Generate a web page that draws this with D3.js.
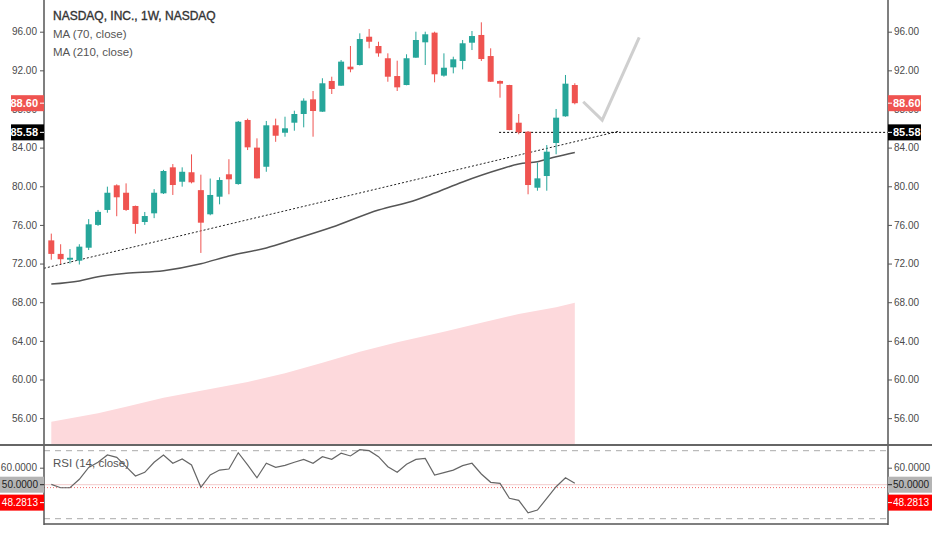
<!DOCTYPE html>
<html>
<head>
<meta charset="utf-8">
<script src="https://cdn.jsdelivr.net/npm/d3@7"></script>
<style>
body { margin: 0; background: #fff; }
svg { display: block; font-family: "Liberation Sans", Arial, sans-serif; }
</style>
</head>
<body>
<svg width="932" height="550"></svg>
<script>
// weekly candles, NASDAQ Inc (NDAQ), starting week of Oct 16 2017
let open  = [74.4,73.0,72.4,72.3,73.64,76.0,77.55,80.1,79.33,77.96,76.3,77.2,79.27,81.96,80.47,81.45,79.6,77.1,78.92,81.24,
             80.23,86.86,84.0,82.02,86.31,85.54,86.58,87.48,89.0,87.72,90.9,90.41,92.38,92.55,95.48,94.52,93.25,91.41,90.48,93.31,
             94.9,95.9,91.45,92.31,92.97,94.86,95.66,93.48,90.9,90.48,86.58,85.65,79.85,81.06,84.48,87.24,90.48];
let high  = [75.1,74.0,73.5,74.0,76.6,77.55,79.96,80.2,80.3,78.0,77.34,79.7,81.7,82.3,81.96,83.3,81.2,80.8,80.93,82.8,
             86.76,87.0,84.96,86.76,87.0,87.2,87.82,89.1,89.86,91.18,91.34,93.07,94.52,95.83,96.28,94.96,93.76,93.0,93.66,96.0,
             96.0,96.0,93.76,93.41,95.14,96.07,96.97,94.28,90.95,90.5,87.48,85.7,82.44,84.27,88.0,91.52,90.66];
let low   = [72.4,71.95,72.0,71.9,73.4,75.9,77.26,76.9,77.45,75.1,76.0,76.7,79.2,79.1,79.96,80.3,73.1,77.0,78.13,79.17,
             80.16,83.75,80.8,81.5,84.6,85.13,85.75,86.1,85.13,87.7,89.55,90.4,91.8,92.5,94.28,93.41,90.82,89.86,90.45,93.3,
             92.55,90.76,91.34,91.69,92.1,94.1,92.97,90.8,89.17,85.8,85.38,79.17,79.54,79.54,83.31,87.2,88.48];
let close = [73.0,72.45,72.6,73.75,76.06,77.35,79.33,78.86,77.55,76.1,76.92,79.33,81.58,80.13,81.5,80.41,76.23,79.1,80.65,80.72,
             86.68,84.03,80.82,86.31,85.23,86.0,87.48,88.86,87.79,90.66,90.07,92.9,92.1,95.24,94.96,93.76,91.34,90.24,93.25,95.14,
             95.73,91.59,92.27,93.14,94.8,95.55,93.17,90.82,90.62,85.82,85.58,80.13,80.82,83.58,87.1,90.62,88.6];

// MA (70, close) read at these bar positions
let maIdx = [0,3,5,8,12,16,19,23,26,30,35,39,41,44,48,50,52,54,56];
let maVal = [69.88,70.2,70.64,70.99,71.26,71.98,72.78,73.62,74.51,75.75,77.54,78.58,79.3,80.45,81.76,82.3,82.54,83.06,83.5];

// MA (210, close) drawn as the pink area
let areaIdx = [0,5,8,12,17,21,25,29,33,37,42,46,50,54,56];
let areaVal = [55.63,56.5,57.18,58.11,59.01,59.74,60.64,61.74,62.87,63.85,64.94,65.88,66.78,67.47,67.95];

// RSI (14, close)
let rsi = [50.2,48.2,48.2,53.2,60.2,63.2,67.5,66.1,60.6,55.1,57.3,63.2,67.5,62.6,65.1,61.6,48.5,55.7,58.6,59.2,
           68.8,61.6,54.1,62.6,60.2,61.4,63.2,64.9,62.6,66.5,64.9,68.5,66.9,70.6,70.0,66.5,60.6,57.3,62.0,64.9,
           65.5,55.7,57.1,58.6,61.2,62.6,56.3,51.4,50.8,42.0,40.8,33.5,35.1,42.0,48.8,54.1,50.8];

// drawings
let trendLine = [[-0.78,71.51],[60.8,85.72]];
let levelStart = 47.9, levelPrice = 85.58;
let arrowPts = [[56.9,88.75],[58.93,86.85],[62.89,95.42]];

let priceTicks = [56,60,64,68,72,76,80,84,88,92,96];
let rsiTicks = [60];
let dateIdx = [3,11,20,29,37,46,55,64,72,81,89];
let dateLabels = ["Nov","2018","Mar","May","Jul","Sep","Nov","2019","Mar","May","Jul"];

let up = "#26a69a", down = "#ef5350";

let svg = d3.select("svg");

let x = d3.scaleLinear().domain([-0.78, 89.5]).range([44, 888]);
let y = d3.scaleLinear().domain([53.22, 99.28]).range([445, 0]);
let yr = d3.scaleLinear().domain([30, 70]).range([518.7, 450.7]);

let defs = svg.append("defs");
defs.append("clipPath").attr("id","main").append("rect").attr("x",44).attr("y",0).attr("width",844).attr("height",444);
defs.append("clipPath").attr("id","bot").append("rect").attr("x",44).attr("y",446).attr("width",844).attr("height",78);
defs.append("clipPath").attr("id","xlab").append("rect").attr("x",0).attr("y",524).attr("width",887).attr("height",26);

let main = svg.append("g").attr("clip-path","url(#main)");

// pink area
let area = d3.area()
    .x((d,i) => x(areaIdx[i]))
    .y0(444)
    .y1(d => y(d));
main.append("path").datum(areaVal)
    .attr("d", area)
    .attr("fill", "#fdd9dc");

// moving average
main.append("path").datum(maVal)
    .attr("d", d3.line().x((d,i) => x(maIdx[i])).y(d => y(d)).curve(d3.curveMonotoneX))
    .attr("fill","none").attr("stroke","#555").attr("stroke-width",1.5);

// trend line + level
main.append("line")
    .attr("x1", x(trendLine[0][0])).attr("y1", y(trendLine[0][1]))
    .attr("x2", x(trendLine[1][0])).attr("y2", y(trendLine[1][1]))
    .attr("stroke","#222").attr("stroke-width",1).attr("stroke-dasharray","2,2");
main.append("line")
    .attr("x1", x(levelStart)).attr("x2", 888)
    .attr("y1", y(levelPrice)).attr("y2", y(levelPrice))
    .attr("stroke","#000").attr("stroke-width",1).attr("stroke-dasharray","2,2");

// candles
let bars = main.append("g").selectAll("g")
    .data(open.map((o,i) => ({i:i, o:o, h:high[i], l:low[i], c:close[i]})))
    .enter().append("g");
bars.append("line")
    .attr("x1", d => x(d.i)).attr("x2", d => x(d.i))
    .attr("y1", d => y(d.h)).attr("y2", d => y(d.l))
    .attr("stroke", d => d.c >= d.o ? up : down).attr("stroke-width",1);
bars.append("rect")
    .attr("x", d => x(d.i) - 3)
    .attr("width", 6)
    .attr("y", d => y(Math.max(d.o,d.c)))
    .attr("height", d => Math.max(1, Math.abs(y(d.o) - y(d.c))))
    .attr("fill", d => d.c >= d.o ? up : down);

// hand drawn arrow
main.append("path").datum(arrowPts)
    .attr("d", d3.line().x(d => x(d[0])).y(d => y(d[1])))
    .attr("fill","none").attr("stroke","#cfcfcf").attr("stroke-width",3);

// legend
svg.append("text").attr("x",53).attr("y",20).attr("fill","#333").attr("font-size",12)
    .attr("stroke","#333").attr("stroke-width",0.35)
    .text("NASDAQ, INC., 1W, NASDAQ");
svg.append("text").attr("x",53).attr("y",38).attr("fill","#555").attr("font-size",11.5).text("MA (70, close)");
svg.append("text").attr("x",53).attr("y",56).attr("fill","#555").attr("font-size",11.5).text("MA (210, close)");

// RSI pane
let bot = svg.append("g").attr("clip-path","url(#bot)");
[70,30].forEach(v => bot.append("line").attr("x1",44).attr("x2",888).attr("y1",yr(v)).attr("y2",yr(v))
    .attr("stroke","#aaa").attr("stroke-dasharray","6,5"));
bot.append("line").attr("x1",44).attr("x2",888).attr("y1",yr(50)).attr("y2",yr(50)).attr("stroke","#f3caca");
bot.append("line").attr("x1",44).attr("x2",888).attr("y1",yr(48.2813)).attr("y2",yr(48.2813))
    .attr("stroke","#f26b6b").attr("stroke-dasharray","1,2");
bot.append("path").datum(rsi)
    .attr("d", d3.line().x((d,i) => x(i)).y(d => yr(d)))
    .attr("fill","none").attr("stroke","#666").attr("stroke-width",1.2);
svg.append("text").attr("x",53).attr("y",467).attr("fill","#555").attr("font-size",11.5).text("RSI (14, close)");

// axes
function styleAxis(g) {
    g.select(".domain").remove();
    g.selectAll(".tick line").attr("stroke","#555");
    g.selectAll(".tick text").attr("fill","#4a4a4a").attr("font-size",10);
}
svg.append("g").attr("transform","translate(44,0)")
    .call(d3.axisLeft(y).tickValues(priceTicks).tickFormat(d3.format(".2f")).tickSize(4).tickPadding(3)).call(styleAxis);
svg.append("g").attr("transform","translate(888,0)")
    .call(d3.axisRight(y).tickValues(priceTicks).tickFormat(d3.format(".2f")).tickSize(4).tickPadding(2)).call(styleAxis);
svg.append("g").attr("transform","translate(44,0)")
    .call(d3.axisLeft(yr).tickValues(rsiTicks).tickFormat(d3.format(".4f")).tickSize(4).tickPadding(3)).call(styleAxis);
svg.append("g").attr("transform","translate(888,0)")
    .call(d3.axisRight(yr).tickValues(rsiTicks).tickFormat(d3.format(".4f")).tickSize(4).tickPadding(2)).call(styleAxis);

let xg = svg.append("g").attr("transform","translate(0,524)").attr("clip-path","url(#xlab)")
    .call(d3.axisBottom(x).tickValues(dateIdx).tickFormat((d,i) => dateLabels[i]).tickSize(4).tickPadding(6))
    .call(styleAxis);
xg.selectAll(".tick text").attr("font-size",11)
    .attr("font-weight", (d,i) => /^\d+$/.test(dateLabels[i]) ? "bold" : null)
    .attr("fill", (d,i) => /^\d+$/.test(dateLabels[i]) ? "#333" : "#555");

// frame lines
svg.append("line").attr("x1",44).attr("x2",44).attr("y1",0).attr("y2",525).attr("stroke","#555").attr("stroke-width",1.5);
svg.append("line").attr("x1",888).attr("x2",888).attr("y1",0).attr("y2",525).attr("stroke","#555").attr("stroke-width",1.5);
svg.append("line").attr("x1",0).attr("x2",932).attr("y1",445).attr("y2",445).attr("stroke","#666").attr("stroke-width",2);
svg.append("line").attr("x1",44).attr("x2",888).attr("y1",524).attr("y2",524).attr("stroke","#555").attr("stroke-width",1.5);

// price tags
function tag(side, cy, txt, bg, fg, w, bold) {
    let g = svg.append("g");
    let x0 = side === "left" ? 44 - w : 888;
    g.append("rect").attr("x",x0).attr("y",cy-8).attr("width",w).attr("height",16).attr("fill",bg);
    g.append("line").attr("x1", side === "left" ? 40 : 888).attr("x2", side === "left" ? 44 : 892)
        .attr("y1",cy).attr("y2",cy).attr("stroke",fg);
    g.append("text").attr("x", side === "left" ? 38 : 893).attr("y",cy).attr("dy","0.35em")
        .attr("text-anchor", side === "left" ? "end" : "start")
        .attr("fill",fg).attr("font-size",bold ? 11 : 10).attr("font-weight",bold ? "bold" : null).text(txt);
}
let lastClose = close[close.length-1];
["left","right"].forEach(s => {
    tag(s, y(lastClose), lastClose.toFixed(2), down, "#fff", 33, true);
    tag(s, y(levelPrice), levelPrice.toFixed(2), "#000", "#fff", 33, true);
    tag(s, yr(50), "50.0000", "#b4b4b4", "#222", 44, false);
    tag(s, yr(48.2813) + 15, "48.2813", "#ff0000", "#fff", 44, false);
});
</script>
</body>
</html>
